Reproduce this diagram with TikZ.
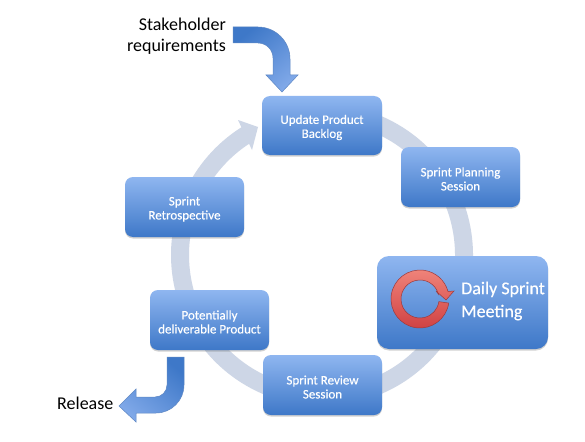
\documentclass[tikz,border=0pt]{standalone}
\usepackage{fontspec}
\setmainfont{Carlito}
\newfontfamily\stagefont[FakeBold=0.35]{Carlito}
\usetikzlibrary{shadows,calc}
\definecolor{bluetop}{HTML}{8FB6F0}
\definecolor{bluebot}{HTML}{3E78C8}
\definecolor{bluemid}{HTML}{7FA8E8}
\definecolor{ringc}{HTML}{CDD6E6}
\definecolor{edgeb}{HTML}{5F88C4}
\definecolor{redtop}{HTML}{F0857B}
\definecolor{redbot}{HTML}{CF4042}
\definecolor{rededge}{HTML}{9C3A3C}
\newcommand{\stagelines}[2]{\rule{0pt}{13pt}#1\\#2}
\tikzset{
  stage/.style={rounded corners=8pt,top color=bluetop,bottom color=bluebot,draw=none,
    text=white,align=center,inner sep=0pt,anchor=center,font=\stagefont\fontsize{13}{14}\selectfont,
    drop shadow={shadow xshift=0pt,shadow yshift=-1.5pt,opacity=.3,fill=black!60}},
  lbl/.style={text=black,font=\fontsize{18}{21}\selectfont,inner sep=0pt},
  bent/.style={draw=edgeb,line width=.5pt,line join=miter}
}
\begin{document}
\begin{tikzpicture}[x=1pt,y=-1pt]
\useasboundingbox (0,0) rectangle (585,441);
\fill[white] (0,0) rectangle (585,441);
% cycle ring
\begin{scope}[shift={(322,255)}]
\draw[ringc,line width=18pt] (95:142pt) arc[start angle=95,end angle=-239,radius=142pt];
\end{scope}
\coordinate (hA) at (238,120);
\coordinate (hB) at (258,127);
\coordinate (hC) at (252,150);
\fill[ringc] (hA) -- (hB) -- (hC) -- cycle;
% stages
\node[stage,minimum width=120pt,minimum height=59pt] (backlog) at (322,125.5) {\stagelines{Update Product}{Backlog}};
\node[stage,minimum width=119pt,minimum height=60pt] (planning) at (460.5,177) {\stagelines{Sprint Planning}{Session}};
\node[stage,minimum width=171pt,minimum height=93pt,rounded corners=12pt] (daily) at (462.5,302.5) {};
\node[stage,minimum width=119pt,minimum height=60pt] (review) at (322.5,385) {\stagelines{Sprint Review}{Session}};
\node[stage,minimum width=119pt,minimum height=60pt] (product) at (209.5,320) {\stagelines{Potentially}{deliverable Product}};
\node[stage,minimum width=119pt,minimum height=60pt] (retro) at (184.5,207) {\stagelines{Sprint}{Retrospective}};
% daily meeting
\node[text=white,align=left,anchor=west,inner sep=0pt,font=\stagefont\fontsize{18}{23}\selectfont] (dailytext) at (461,301) {Daily Sprint\\Meeting};
\begin{scope}[shift={(420,299)}]
\path[top color=redtop,bottom color=redbot,draw=rededge,line width=.5pt]
  (-8:29pt) arc[start angle=-8,end angle=-345,radius=29pt]
  -- (34pt,8pt) -- (26pt,-1pt) -- (16pt,8pt) -- (15:19pt)
  arc[start angle=-345,end angle=-8,radius=19pt] -- cycle;
\end{scope}
% labels
\node[lbl,align=right,anchor=east] (stake) at (226,36.5) {Stakeholder\\requirements};
\node[lbl,anchor=west] (release) at (57,403) {Release};
% bent arrows
\path[bent,top color=bluebot,bottom color=bluemid,shading angle=40]
  (233,27) -- (258,27) arc[start angle=90,end angle=0,radius=32pt] -- (290,75) -- (298,75) -- (282,92) -- (266,75) -- (273,75) -- (273,58)
  arc[start angle=0,end angle=90,radius=15pt] -- (233,43) -- cycle;
\path[bent,top color=bluebot,bottom color=bluemid,shading angle=-40]
  (167,357) -- (184,357) -- (184,385) arc[start angle=0,end angle=-90,radius=28pt] -- (136,413) -- (136,422) -- (119,406) -- (136,389) -- (136,397) -- (155,397)
  arc[start angle=-90,end angle=0,radius=12pt] -- cycle;
\end{tikzpicture}
\end{document}
